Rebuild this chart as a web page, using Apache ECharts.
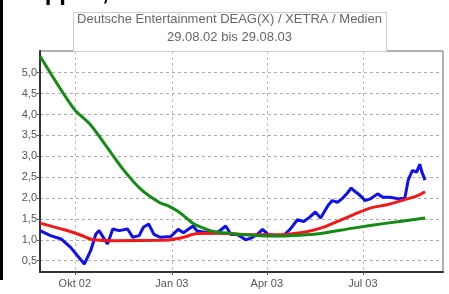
<!DOCTYPE html>
<html>
<head>
<meta charset="utf-8">
<script src="https://cdn.jsdelivr.net/npm/echarts@6/dist/echarts.min.js"></script>
<style>
  html, body { margin: 0; padding: 0; background: #fff; }
  #chart { width: 449px; height: 294px; }
</style>
</head>
<body>
<div id="chart"></div>
<script>
// x is days since 29.08.02
const tickDays = [33, 125, 215, 306]
const tickLabels = ['Okt 02', 'Jan 03', 'Apr 03', 'Jul 03']
const yTicks = [0.5, 1.0, 1.5, 2.0, 2.5, 3.0, 3.5, 4.0, 4.5, 5.0]

const priceDays = [0, 1, 10, 20, 29, 42, 48, 53, 56, 60, 64, 69, 75, 83, 88, 94, 98, 103, 108, 114, 124, 131, 136, 145, 149, 159, 168, 176, 181, 187, 195, 200, 206, 211, 216, 224, 231, 237, 244, 250, 256, 261, 266, 273, 277, 282, 287, 291, 295, 299, 304, 308, 313, 320, 325, 332, 340, 346, 349, 353, 357, 360, 362, 365]
const priceValues = [1.22, 1.22, 1.10, 1.02, 0.82, 0.42, 0.74, 1.14, 1.22, 1.06, 0.90, 1.26, 1.22, 1.26, 1.06, 1.10, 1.30, 1.38, 1.13, 1.06, 1.08, 1.25, 1.17, 1.33, 1.21, 1.17, 1.17, 1.33, 1.13, 1.13, 1.00, 1.04, 1.13, 1.25, 1.13, 1.10, 1.11, 1.25, 1.48, 1.44, 1.55, 1.67, 1.52, 1.82, 1.94, 1.90, 2.00, 2.11, 2.24, 2.15, 2.05, 1.94, 1.98, 2.10, 2.02, 2.02, 1.98, 2.02, 2.43, 2.66, 2.62, 2.81, 2.62, 2.43]

const avgShortDays = [0, 23, 39, 51, 70, 114, 124, 136, 149, 168, 193, 228, 250, 266, 282, 297, 313, 329, 344, 358, 365]
const avgShortValues = [1.40, 1.24, 1.11, 1.00, 0.98, 0.99, 1.00, 1.06, 1.15, 1.16, 1.13, 1.12, 1.18, 1.28, 1.44, 1.60, 1.76, 1.84, 1.95, 2.06, 2.15]

const avgLongDays = [0, 32, 48, 64, 79, 96, 114, 121, 131, 146, 155, 162, 174, 190, 219, 247, 266, 297, 329, 365]
const avgLongValues = [5.40, 4.14, 3.75, 3.20, 2.68, 2.20, 1.88, 1.82, 1.68, 1.38, 1.28, 1.21, 1.17, 1.13, 1.09, 1.11, 1.15, 1.28, 1.40, 1.52]

const titleLines = ['Deutsche Entertainment DEAG(X) / XETRA / Medien', '29.08.02 bis 29.08.03']

function pairs(days, values) {
  return days.map((d, i) => [d, values[i]])
}

const chart = echarts.init(document.getElementById('chart'))
chart.setOption({
  animation: false,
  backgroundColor: '#fff',
  grid: {
    left: 40, right: 6, top: 51, bottom: 22,
    show: true, borderColor: '#666', borderWidth: 1, backgroundColor: '#fff',
  },
  graphic: [
    { type: 'rect', left: 0, top: 0, shape: { width: 3, height: 280 }, style: { fill: '#000' } },
    {
      type: 'text', x: 6, y: 5,
      style: { text: 'Stopp: 1,05', font: 'bold 24px "Liberation Sans"', fill: '#000', verticalAlign: 'bottom' },
    },
    {
      type: 'rect', shape: { x: 73.5, y: 12.5, width: 313, height: 39 },
      style: { fill: '#fff', stroke: '#ccc', lineWidth: 1 }, z: 0,
    },
    {
      type: 'text', x: 229.5, y: 19,
      style: { text: titleLines[0], font: '13px "Liberation Sans"', fill: '#666', align: 'center', verticalAlign: 'middle' },
    },
    {
      type: 'text', x: 229.5, y: 37,
      style: { text: titleLines[1], font: '13px "Liberation Sans"', fill: '#666', align: 'center', verticalAlign: 'middle' },
    },
  ],
  xAxis: {
    type: 'value',
    min: 0,
    max: 382,
    axisLine: { show: true, onZero: false, lineStyle: { color: '#333', width: 2 } },
    axisTick: { show: true, length: 3, customValues: tickDays, lineStyle: { color: '#555' } },
    axisLabel: {
      customValues: tickDays,
      formatter: (v) => tickLabels[tickDays.indexOf(v)] || '',
      color: '#555', fontSize: 11, fontFamily: 'Liberation Sans', margin: 6,
    },
    splitLine: { show: true, lineStyle: { color: '#bbb', type: [3, 3] } },
  },
  yAxis: {
    type: 'value',
    min: 0.23,
    max: 5.52,
    axisLine: { show: true, onZero: false, lineStyle: { color: '#333', width: 2 } },
    axisTick: { show: true, length: 3, customValues: yTicks, lineStyle: { color: '#555' } },
    axisLabel: {
      customValues: yTicks,
      formatter: (v) => v.toFixed(1).replace('.', ','),
      color: '#555', fontSize: 11, fontFamily: 'Liberation Sans', margin: 3,
    },
    splitLine: { show: true, lineStyle: { color: '#aaa', type: [3, 3] } },
  },
  series: [
    {
      name: 'Kurs', type: 'line', showSymbol: false,
      data: pairs(priceDays, priceValues),
      lineStyle: { color: '#1010e8', width: 3 },
    },
    {
      name: 'GD kurz', type: 'line', showSymbol: false, smooth: 0.3,
      data: pairs(avgShortDays, avgShortValues),
      lineStyle: { color: '#f01818', width: 3 },
    },
    {
      name: 'GD lang', type: 'line', showSymbol: false, smooth: 0.3,
      data: pairs(avgLongDays, avgLongValues),
      lineStyle: { color: '#158a15', width: 3 },
    },
  ],
})
</script>
</body>
</html>
